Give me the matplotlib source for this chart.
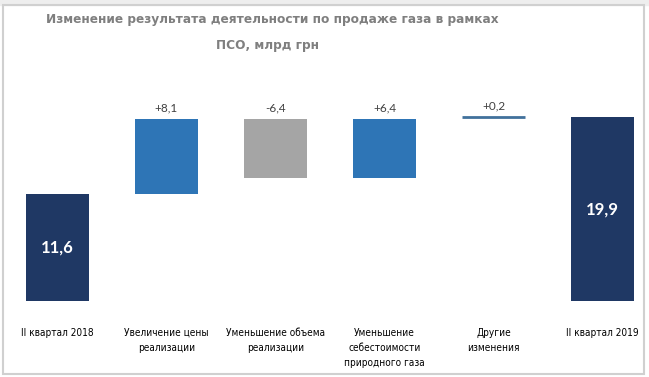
import matplotlib
matplotlib.use("Agg")
import matplotlib.pyplot as plt
from matplotlib.patches import Rectangle

# waterfall data, млрд грн
categories = ["II квартал 2018", "Увеличение цены\nреализации",
              "Уменьшение объема\nреализации",
              "Уменьшение\nсебестоимости\nприродного газа",
              "Другие\nизменения", "II квартал 2019"]
start_value = 11.6
changes = [8.1, -6.4, 6.4, 0.2]
end_value = 19.9
change_labels = ["+8,1", "-6,4", "+6,4", "+0,2"]
total_labels = ["11,6", "19,9"]

NAVY = "#1f3864"
BLUE = "#2e75b6"
GRAY = "#a5a5a5"
THIN = "#41719c"

W, H = 649, 377
fig = plt.figure(figsize=(W / 100, H / 100), dpi=100)
fig.patch.set_facecolor("white")

# pixel layout: bar centres 57.5 + 109*i, zero line at y=301, 9.23 px per unit
x0, dx = 57.5, 109.0
y0, ppu = 301.0, 9.23
ax = fig.add_axes([0, 0, 1, 1])
ax.set_xlim((0 - x0) / dx, (W - x0) / dx)
ax.set_ylim(-(H - y0) / ppu, y0 / ppu)
ax.axis("off")

bw = 0.57
cat_font = dict(family="DejaVu Sans", stretch="condensed",
                size=7.2, color="#000000")
val_font = dict(family="Lato", size=8.5, color="#404040")

# start total
ax.bar(0, start_value, width=bw, color=NAVY)
ax.text(0, start_value / 2, total_labels[0], ha="center", va="center",
        color="white", fontsize=12, fontweight="bold", family="Lato")

running = start_value
for i, (c, lab) in enumerate(zip(changes, change_labels), start=1):
    lo, hi = min(running, running + c), max(running, running + c)
    if abs(c) < 0.5:
        ax.plot([i - bw / 2, i + bw / 2], [hi, hi], color=THIN, lw=2,
                solid_capstyle="butt")
    else:
        ax.bar(i, hi - lo, bottom=lo, width=bw, color=GRAY if c < 0 else BLUE)
    ax.text(i, hi + 0.6, lab, ha="center", va="bottom", **val_font)
    running += c

# end total
ax.bar(5, end_value, width=bw, color=NAVY)
ax.text(5, end_value / 2, total_labels[1], ha="center", va="center",
        color="white", fontsize=12, fontweight="bold", family="Lato")

# category labels under the bars
for i, cat in enumerate(categories):
    ax.text(i, -(328 - y0) / ppu, cat, ha="center", va="top",
            linespacing=1.6, **cat_font)

title_font = dict(ha="center", va="center", fontsize=9.7, fontweight="bold",
                  stretch="condensed", color="#7f7f7f", family="DejaVu Sans")
fig.text(272 / W, 1 - 19 / H,
         "Изменение результата деятельности по продаже газа в рамках", **title_font)
fig.text(268 / W, 1 - 45 / H, "ПСО, млрд грн", **title_font)

# light frame around the chart
fig.patches.append(Rectangle((0, 1 - 5 / H), 1, 5 / H, transform=fig.transFigure,
                             color="#eeeeee", zorder=0))
fig.patches.append(Rectangle((3 / W, 3 / H), (W - 8) / W, (H - 8) / H,
                             transform=fig.transFigure, fill=False,
                             edgecolor="#d0d0d0", lw=1.5, zorder=5))

fig.savefig("out.png", dpi=100)
